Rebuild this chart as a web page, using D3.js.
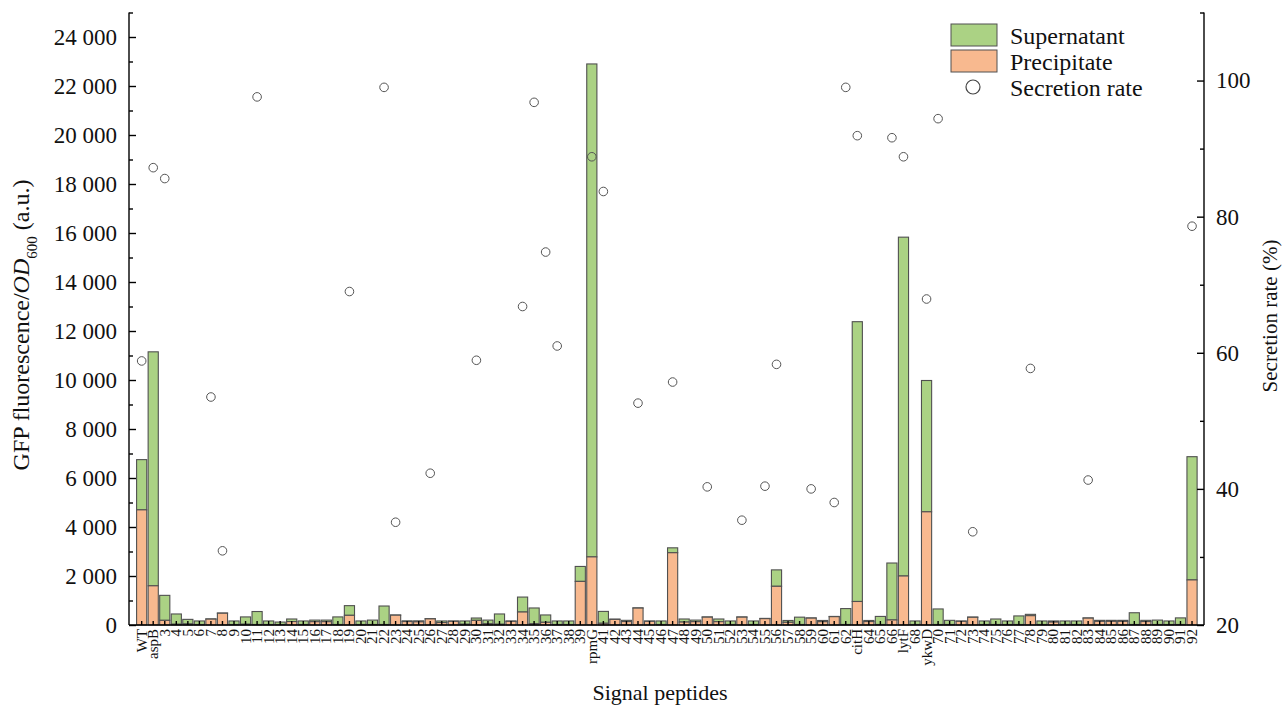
<!DOCTYPE html>
<html lang="en">
<head>
<meta charset="UTF-8">
<title>Signal peptides</title>
<script src="https://d3js.org/d3.v7.min.js"></script>
<style>
    html, body {
        margin: 0;
        background: #fff;
    }
    svg text {
        font-family: "Times New Roman", "Liberation Serif", serif;
        fill: #111;
    }
</style>
</head>
<body>
<div id="chart"></div>
<script>
    var categories = ["WT", "aspB", "3", "4", "5", "6", "7", "8", "9", "10",
        "11", "12", "13", "14", "15", "16", "17", "18", "19", "20",
        "21", "22", "23", "24", "25", "26", "27", "28", "29", "30",
        "31", "32", "33", "34", "35", "36", "37", "38", "39", "rpmG",
        "41", "42", "43", "44", "45", "46", "47", "48", "49", "50",
        "51", "52", "53", "54", "55", "56", "57", "58", "59", "60",
        "61", "62", "citH", "64", "65", "66", "lytF", "68", "ykwD", "70",
        "71", "72", "73", "74", "75", "76", "77", "78", "79", "80",
        "81", "82", "83", "84", "85", "86", "87", "88", "89", "90",
        "91", "92"];

    var precipitate = [4700, 1600, 190, 30, 40, 20, 240, 480, 20, 30,
        20, 20, 20, 140, 20, 135, 135, 20, 395, 20,
        20, 20, 400, 140, 130, 250, 100, 150, 30, 190,
        50, 30, 150, 530, 50, 110, 20, 20, 1780, 2780,
        70, 230, 140, 690, 150, 20, 2950, 120, 135, 320,
        135, 20, 320, 20, 260, 1580, 110, 20, 280, 135,
        340, 20, 960, 140, 20, 205, 2000, 20, 4620, 20,
        20, 150, 315, 20, 20, 20, 20, 380, 20, 120,
        20, 20, 280, 150, 150, 150, 20, 140, 20, 20,
        20, 1840];

    var supernatant = [2050, 9550, 1020, 420, 190, 145, 10, 10, 145, 300,
        530, 145, 100, 105, 145, 65, 65, 310, 395, 145,
        180, 755, 10, 30, 40, 10, 65, 15, 135, 95,
        150, 420, 15, 610, 645, 300, 145, 145, 610, 20120,
        485, 10, 50, 10, 15, 145, 200, 125, 65, 10,
        110, 145, 10, 145, 10, 670, 75, 300, 10, 50,
        10, 650, 11420, 45, 330, 2325, 13830, 145, 5360, 635,
        170, 15, 10, 145, 225, 145, 350, 55, 145, 45,
        145, 145, 10, 40, 40, 40, 480, 50, 180, 145,
        270, 5030];

    // secretion rate (%), only for the strains that have a point
    var secretionCats = ["WT", "aspB", "3", "7", "8", "11", "19", "22", "23", "26",
        "30", "34", "35", "36", "37", "rpmG", "41", "44", "47", "50",
        "53", "55", "56", "59", "61", "62", "citH", "66", "lytF", "ykwD",
        "70", "73", "78", "83", "92"];
    var secretionRate = [58.8, 87.2, 85.6, 53.5, 30.9, 97.6, 69, 99, 35.1, 42.3,
        58.9, 66.8, 96.8, 74.8, 61, 88.8, 83.7, 52.6, 55.7, 40.3,
        35.4, 40.4, 58.3, 40, 38, 99, 91.9, 91.6, 88.8, 67.9,
        94.4, 33.7, 57.7, 41.3, 78.6];

    var leftTicks = [0, 2000, 4000, 6000, 8000, 10000, 12000, 14000, 16000, 18000, 20000, 22000, 24000];
    var rightTicks = [20, 40, 60, 80, 100];

    var width = 1288, height = 709;
    var x0 = 129, x1 = 1204, yBase = 625, yTop = 12.5;

    var svg = d3.select('#chart')
        .append('svg')
        .attr('width', width)
        .attr('height', height);

    var x = d3.scaleBand()
        .domain(categories)
        .range([135.9, 1197.8])
        .paddingInner(0.12)
        .paddingOuter(0.06);

    var yL = d3.scaleLinear()
        .domain([0, 25000])
        .range([yBase, yTop]);

    var yR = d3.scaleLinear()
        .domain([20, 110])
        .range([yBase, yTop]);

    var green = '#abd284';
    var orange = '#f8b98f';
    var edge = '#505050';

    var rows = categories.map(function (c, i) {
        return { cat: c, pre: precipitate[i], sup: supernatant[i] };
    });

    // precipitate at the bottom, supernatant stacked on top
    svg.append('g').selectAll('rect')
        .data(rows)
        .enter().append('rect')
        .attr('x', function (d) { return x(d.cat); })
        .attr('width', x.bandwidth())
        .attr('y', function (d) { return yL(d.pre + d.sup); })
        .attr('height', function (d) { return yL(d.pre) - yL(d.pre + d.sup); })
        .attr('fill', green)
        .attr('stroke', edge)
        .attr('stroke-width', 1.1);

    svg.append('g').selectAll('rect')
        .data(rows)
        .enter().append('rect')
        .attr('x', function (d) { return x(d.cat); })
        .attr('width', x.bandwidth())
        .attr('y', function (d) { return yL(d.pre); })
        .attr('height', function (d) { return yBase - yL(d.pre); })
        .attr('fill', orange)
        .attr('stroke', edge)
        .attr('stroke-width', 1.1);

    // secretion rate circles
    svg.append('g').selectAll('circle')
        .data(secretionCats)
        .enter().append('circle')
        .attr('cx', function (d) { return x(d) + x.bandwidth() / 2; })
        .attr('cy', function (d, i) { return yR(secretionRate[i]); })
        .attr('r', 4.3)
        .attr('fill', 'none')
        .attr('stroke', '#555')
        .attr('stroke-width', 1);

    // left axis
    var fmt = function (d) { return d3.format(',')(d).replace(',', ' '); };
    var gL = svg.append('g')
        .attr('transform', 'translate(' + x0 + ',0)')
        .call(d3.axisLeft(yL).tickValues(leftTicks).tickSize(-7).tickSizeOuter(0).tickPadding(12).tickFormat(fmt));
    gL.append('g')
        .call(d3.axisLeft(yL).tickValues(d3.range(1000, 25001, 2000)).tickSize(-4).tickFormat(''))
        .select('.domain').remove();
    gL.select('.domain').attr('d', 'M0,' + yBase + 'V' + yTop);

    // right axis
    var gR = svg.append('g')
        .attr('transform', 'translate(' + x1 + ',0)')
        .call(d3.axisRight(yR).tickValues(rightTicks).tickSize(-7).tickSizeOuter(0).tickPadding(12));
    gR.append('g')
        .call(d3.axisRight(yR).tickValues([30, 50, 70, 90, 110]).tickSize(-4).tickFormat(''))
        .select('.domain').remove();
    gR.select('.domain').attr('d', 'M0,' + yBase + 'V' + yTop);

    // bottom axis
    var gB = svg.append('g')
        .attr('transform', 'translate(0,' + yBase + ')')
        .call(d3.axisBottom(x).tickSize(-4).tickSizeOuter(0).tickPadding(0));
    gB.select('.domain').attr('d', 'M' + x0 + ',0H' + x1);
    gB.selectAll('text')
        .attr('transform', 'rotate(-90)')
        .attr('x', -4)
        .attr('y', 0)
        .attr('dy', '0.33em')
        .style('text-anchor', 'end')
        .style('font-size', '15px');

    svg.selectAll('.domain, .tick line')
        .attr('stroke', '#000')
        .attr('stroke-width', 1.4);
    gL.selectAll('text').style('font-size', '23px');
    gR.selectAll('text').style('font-size', '23px');

    // titles
    var yt = svg.append('text')
        .attr('transform', 'translate(29,' + 325 + ') rotate(-90)')
        .attr('text-anchor', 'middle')
        .style('font-size', '24px');
    yt.append('tspan').text('GFP fluorescence/');
    yt.append('tspan').style('font-style', 'italic').text('OD');
    yt.append('tspan').attr('baseline-shift', 'sub').style('font-size', '15px').text('600');
    yt.append('tspan').text(' (a.u.)');

    svg.append('text')
        .attr('transform', 'translate(1277,' + 316 + ') rotate(-90)')
        .attr('text-anchor', 'middle')
        .style('font-size', '21px')
        .text('Secretion rate (%)');

    svg.append('text')
        .attr('x', 660)
        .attr('y', 700)
        .attr('text-anchor', 'middle')
        .style('font-size', '22px')
        .text('Signal peptides');

    // legend
    var lg = svg.append('g').attr('transform', 'translate(951,24)');
    lg.append('rect').attr('width', 46).attr('height', 22).attr('fill', green).attr('stroke', edge);
    lg.append('rect').attr('y', 26).attr('width', 46).attr('height', 22).attr('fill', orange).attr('stroke', edge);
    lg.append('circle').attr('cx', 22).attr('cy', 63).attr('r', 7).attr('fill', 'none').attr('stroke', '#444').attr('stroke-width', 1.2);
    var legendText = ['Supernatant', 'Precipitate', 'Secretion rate'];
    lg.selectAll('.lt')
        .data(legendText)
        .enter().append('text')
        .attr('x', 59)
        .attr('y', function (d, i) { return 20 + i * 26; })
        .style('font-size', '24px')
        .text(function (d) { return d; });
</script>
</body>
</html>
